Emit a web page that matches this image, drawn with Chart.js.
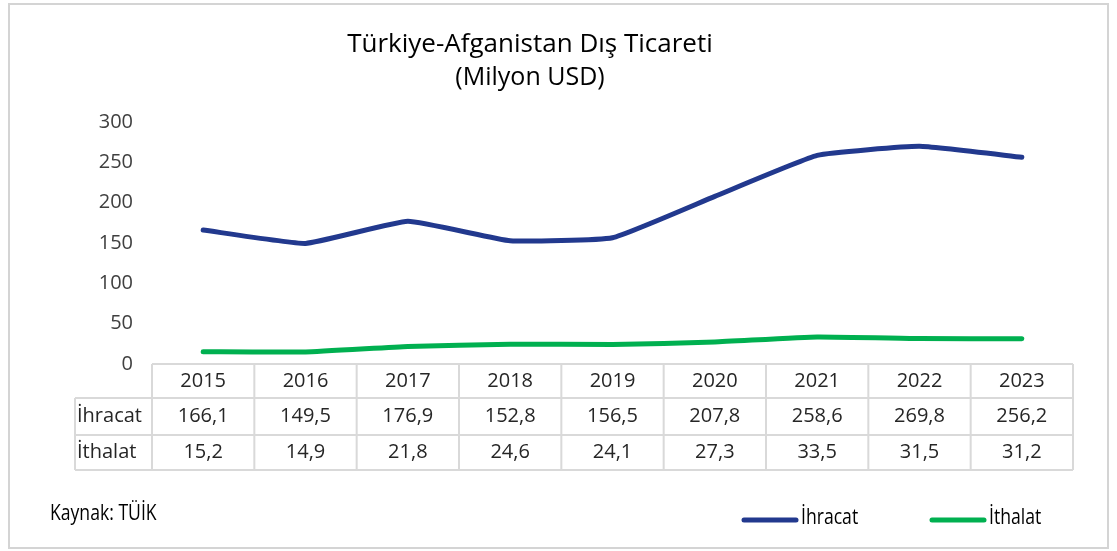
<!DOCTYPE html>
<html>
<head>
<meta charset="utf-8">
<script src="https://cdn.jsdelivr.net/npm/chart.js@4"></script>
<style>
  html, body { margin: 0; padding: 0; background: #fff; }
  canvas { display: block; }
</style>
</head>
<body>
<canvas id="c" width="1117" height="551"></canvas>
<script>
const years = ['2015','2016','2017','2018','2019','2020','2021','2022','2023'];
const ihracat = [166.1,149.5,176.9,152.8,156.5,207.8,258.6,269.8,256.2];
const ithalat = [15.2,14.9,21.8,24.6,24.1,27.3,33.5,31.5,31.2];
const seriesNames = ['İhracat','İthalat'];
const titleLines = ['Türkiye-Afganistan Dış Ticareti','(Milyon USD)'];
const sourceText = 'Kaynak: TÜİK';

const BLUE = '#22398E';
const GREEN = '#00B050';
const FONT = '"Open Sans", "Noto Sans", sans-serif';

function fmt(v){ return v.toFixed(1).replace('.', ','); }

const decor = {
  id: 'decor',
  beforeDraw(chart) {
    const ctx = chart.ctx;
    ctx.save();
    ctx.fillStyle = '#fff';
    ctx.fillRect(0,0,chart.width,chart.height);
    ctx.strokeStyle = '#d4d4d4';
    ctx.lineWidth = 2;
    ctx.strokeRect(9, 4, 1099, 544);
    // title
    ctx.fillStyle = '#000';
    ctx.textAlign = 'center';
    ctx.textBaseline = 'middle';
    ctx.font = '26px ' + FONT;
    ctx.fillText(titleLines[0], 530, 45);
    ctx.font = '25px ' + FONT;
    ctx.fillText(titleLines[1], 530, 78);
    ctx.restore();
  },
  afterDraw(chart) {
    const ctx = chart.ctx;
    const x = chart.scales.x;
    const area = chart.chartArea;
    const n = years.length;
    const colW = (area.right - area.left) / n;
    const top = area.bottom;
    const r1 = top + 34, r2 = top + 71, r3 = top + 106;
    const labL = 75;
    ctx.save();
    ctx.strokeStyle = '#d9d9d9';
    ctx.lineWidth = 2;
    ctx.beginPath();
    ctx.moveTo(area.left, top); ctx.lineTo(area.right, top);
    [r1, r2, r3].forEach(y => { ctx.moveTo(labL, y); ctx.lineTo(area.right, y); });
    ctx.moveTo(labL, r1); ctx.lineTo(labL, r3);
    for (let i = 0; i <= n; i++) {
      const bx = area.left + i * colW;
      ctx.moveTo(bx, top); ctx.lineTo(bx, r3);
    }
    ctx.stroke();
    ctx.fillStyle = '#262626';
    ctx.font = '20px ' + FONT;
    ctx.textBaseline = 'middle';
    ctx.textAlign = 'center';
    for (let i = 0; i < n; i++) {
      const cx = x.getPixelForValue(i);
      ctx.fillText(years[i], cx, (top + r1) / 2);
      ctx.fillText(fmt(ihracat[i]), cx, (r1 + r2) / 2);
      ctx.fillText(fmt(ithalat[i]), cx, (r2 + r3) / 2);
    }
    ctx.textAlign = 'left';
    ctx.fillText(seriesNames[0], labL + 2, (r1 + r2) / 2);
    ctx.fillText(seriesNames[1], labL + 2, (r2 + r3) / 2);

    // source and legend (condensed)
    ctx.fillStyle = '#000';
    function condensed(text, tx, ty) {
      ctx.save();
      ctx.translate(tx, ty);
      ctx.scale(0.8, 1);
      ctx.fillText(text, 0, 0);
      ctx.restore();
    }
    ctx.font = '22px ' + FONT;
    condensed(sourceText, 50, 514);
    const leg = [[744, BLUE, seriesNames[0]], [932, GREEN, seriesNames[1]]];
    leg.forEach(([lx, col, name]) => {
      ctx.strokeStyle = col;
      ctx.lineWidth = 5;
      ctx.lineCap = 'round';
      ctx.beginPath();
      ctx.moveTo(lx, 520); ctx.lineTo(lx + 52, 520);
      ctx.stroke();
      ctx.fillStyle = '#000';
      condensed(name, lx + 57, 518);
    });
    ctx.restore();
  }
};

new Chart(document.getElementById('c'), {
  type: 'line',
  data: {
    labels: years,
    datasets: [
      { label: seriesNames[0], data: ihracat, borderColor: BLUE, backgroundColor: BLUE,
        borderWidth: 5, pointRadius: 0, tension: 0.12, borderCapStyle: 'round', borderJoinStyle: 'round' },
      { label: seriesNames[1], data: ithalat, borderColor: GREEN, backgroundColor: GREEN,
        borderWidth: 5, pointRadius: 0, tension: 0.12, borderCapStyle: 'round', borderJoinStyle: 'round' }
    ]
  },
  options: {
    responsive: false,
    devicePixelRatio: 1,
    animation: false,
    layout: { padding: { left: 0, right: 44, top: 122, bottom: 187 } },
    plugins: { legend: { display: false }, title: { display: false }, tooltip: { enabled: false } },
    scales: {
      x: {
        type: 'category', offset: true,
        grid: { display: false, drawTicks: false },
        border: { display: false },
        ticks: { display: false },
        afterFit(s) { s.height = 0; }
      },
      y: {
        min: 0, max: 300,
        grid: { display: false, drawTicks: false },
        border: { display: false },
        ticks: { stepSize: 50, padding: 19, color: '#404040', font: { family: FONT, size: 20 } },
        afterFit(s) { s.width = 152; }
      }
    }
  },
  plugins: [decor]
});
</script>
</body>
</html>
